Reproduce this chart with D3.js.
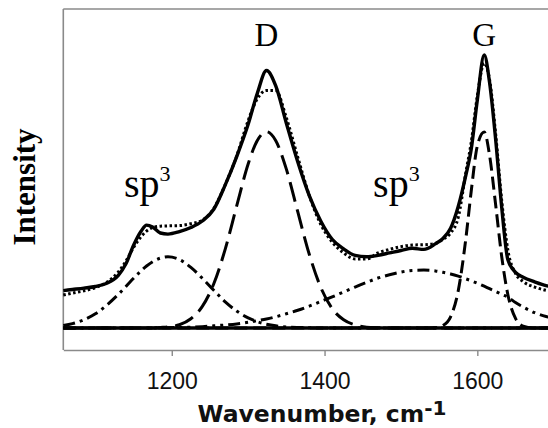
<!DOCTYPE html>
<html><head><meta charset="utf-8">
<script src="https://cdn.jsdelivr.net/npm/d3@7"></script>
<style>html,body{margin:0;padding:0;background:#fff;}svg{display:block;}</style>
</head><body>
<svg id="chart" width="548" height="428"></svg>
<script>
// ---- data ----
const wavenumber = [1058,1070,1085,1100,1115,1130,1140,1150,1160,1167,1175,1185,1195,1210,1225,1240,1255,1270,1285,1300,1312,1324,1336,1350,1365,1380,1395,1410,1425,1440,1455,1470,1485,1500,1515,1530,1545,1555,1565,1575,1585,1592,1600,1609,1616,1624,1632,1640,1650,1660,1675,1690,1700];
const measured = [13.7,14.1,14.6,15.2,16.4,19.3,23.5,30.3,35.5,37.7,37.0,34.8,34.4,35.3,36.8,39.2,43.5,52.4,62.8,74.6,86.0,94.3,88.8,75.0,60.8,48.5,39.2,32.5,29.0,26.6,26.1,26.6,27.5,28.4,29.2,28.8,30.8,32.8,36.5,44.5,56.0,65.5,83.5,100,90.0,69.0,44.0,25.0,20.4,18.6,16.9,15.5,15.0];
const fitSum = [12.1,12.8,13.6,14.8,16.8,20.5,24.5,29.5,33.5,35.5,36.8,37.3,37.4,37.5,38.2,39.5,43.8,52.5,63.0,76.0,84.0,87.0,87.0,77.0,62.5,48.5,38.0,31.5,27.5,25.3,25.3,27.5,28.8,29.8,30.4,30.5,31.0,32.5,34.8,40.5,57.0,68.0,85.0,97.0,91.0,71.0,46.5,28.5,20.0,17.0,15.0,13.8,13.3];
const sp3Low = [0.9,1.6,3.0,5.2,8.4,12.3,15.2,18.2,21.0,22.7,24.3,25.6,26.1,25.1,22.2,18.2,13.8,9.6,6.2,3.7,2.3,1.4,0.8,0.4,0.2,0.1,0,0,0,0,0,0,0,0,0,0,0,0,0,0,0,0,0,0,0,0,0,0,0,0,0,0,0];
const dBand = [0,0,0,0,0,0,0,0,0,0,0,0.2,0.4,1.2,3.4,7.9,16.2,28.9,44.7,60.1,68.7,71.9,68.7,58.2,42.5,27.0,14.9,7.1,3.0,1.1,0.3,0.1,0,0,0,0,0,0,0,0,0,0,0,0,0,0,0,0,0,0,0,0,0];
const sp3High = [0,0,0,0,0,0,0,0,0,0,0,0.1,0.1,0.2,0.3,0.5,0.8,1.1,1.5,2.1,2.7,3.3,4.1,5.2,6.5,8.0,9.7,11.4,13.2,15.0,16.7,18.3,19.5,20.5,21.1,21.2,20.9,20.4,19.8,19.0,18.0,17.3,16.4,15.3,14.4,13.4,12.3,11.3,9.3,7.7,5.6,4.2,3.6];
const gBand = [0,0,0,0,0,0,0,0,0,0,0,0,0,0,0,0,0,0,0,0,0,0,0,0,0,0,0,0,0,0,0,0,0,0,0,0,0.1,0.9,4.1,13.6,32.8,50.1,66.7,71.8,63.3,45.1,26.0,12.2,3.5,0.7,0,0,0];
const xTicks = [1200,1400,1600];
const peakLabels = [{t:"D",x:1324},{t:"G",x:1609}];
const sp3Labels = [1168,1494];

// ---- layout ----
const svg = d3.select("#chart");
const mLeft = 63.3, mTop = 9, mBottom = 350;
const x = d3.scaleLinear().domain([1058,1700]).range([mLeft, mLeft + 641.9*0.764]);
const y = d3.scaleLinear().domain([-8.06,116.85]).range([mBottom, mTop]);

// frame
const frame = svg.append("g").attr("stroke","#8a8a8a").attr("stroke-width",1.6).attr("fill","none");
frame.append("line").attr("x1",mLeft).attr("x2",548).attr("y1",mTop).attr("y2",mTop);
frame.append("line").attr("x1",mLeft).attr("x2",mLeft).attr("y1",mTop).attr("y2",mBottom);

// x axis
const xAxis = svg.append("g").attr("transform",`translate(0,${mBottom})`)
  .call(d3.axisBottom(x).tickValues(xTicks).tickFormat(d3.format("d")).tickSize(6).tickSizeOuter(0).tickPadding(17));
xAxis.select(".domain").attr("stroke","#8a8a8a").attr("stroke-width",1.6);
xAxis.selectAll(".tick line").attr("stroke","#8a8a8a").attr("stroke-width",1.4);
xAxis.selectAll(".tick text").attr("font-family","'Liberation Sans', Arial, sans-serif").attr("font-size",23).attr("fill","#111");

// lines
const line = d3.line().x((d,i)=>x(wavenumber[i])).y(d=>y(d)).curve(d3.curveMonotoneX);
const g = svg.append("g").attr("fill","none").attr("stroke","#000");
// zero baseline
g.append("line").attr("x1",mLeft).attr("x2",554).attr("y1",y(0)).attr("y2",y(0)).attr("stroke-width",3.5);
g.append("path").datum(sp3Low).attr("d",line).attr("stroke-width",3).attr("stroke-dasharray","12,5,3,5");
g.append("path").datum(sp3High).attr("d",line).attr("stroke-width",3).attr("stroke-dasharray","12,5,3,5,3,5");
g.append("path").datum(dBand).attr("d",line).attr("stroke-width",3).attr("stroke-dasharray","20,8");
g.append("path").datum(gBand).attr("d",line).attr("stroke-width",3).attr("stroke-dasharray","13,6");
g.append("path").datum(fitSum).attr("d",line).attr("stroke-width",3).attr("stroke-dasharray","2.5,2.5");
g.append("path").datum(measured).attr("d",line).attr("stroke-width",3.4).attr("stroke-linejoin","round");

// labels
const serif = "'Liberation Serif','Times New Roman',Times,serif";
svg.selectAll(".pk").data(peakLabels).enter().append("text")
  .attr("x",d=>x(d.x)).attr("y",46).attr("text-anchor","middle")
  .attr("font-family",serif).attr("font-size",33).text(d=>d.t);
const sp = svg.selectAll(".sp").data(sp3Labels).enter().append("text")
  .attr("x",d=>x(d)).attr("y",197).attr("text-anchor","middle")
  .attr("font-family",serif).attr("font-size",40);
sp.append("tspan").text("sp");
sp.append("tspan").attr("dy",-16).attr("font-size",22).text("3");

// axis titles
const xt = svg.append("text").attr("x",322).attr("y",421.5).attr("text-anchor","middle")
  .attr("font-family","'DejaVu Sans',Verdana,sans-serif").attr("font-weight","bold").attr("font-size",23.5).attr("fill","#111");
xt.append("tspan").text("Wavenumber, cm");
xt.append("tspan").attr("dy",-7).attr("font-size",20).text("-1");
svg.append("text").attr("transform","translate(35,187) rotate(-90)").attr("text-anchor","middle")
  .attr("font-family",serif).attr("font-weight","bold").attr("font-size",31).attr("fill","#000").text("Intensity");
</script>
</body></html>
